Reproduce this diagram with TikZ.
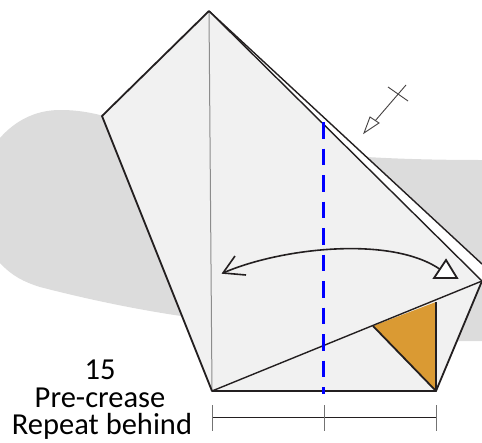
\documentclass[tikz,border=0pt]{standalone}
\usepackage{fontspec}
\setmainfont{Carlito}
\definecolor{blobgray}{HTML}{DCDCDC}
\definecolor{papergray}{HTML}{F1F1F1}
\definecolor{orangefold}{HTML}{DA9A33}
\definecolor{inkline}{HTML}{231F20}
\begin{document}
\begin{tikzpicture}[x=1pt,y=-1pt,
  edge/.style={draw=inkline,line width=1.8pt,line join=round},
  thinedge/.style={draw=inkline,line width=1.4pt},
  ruler/.style={draw=inkline,line width=.8pt},
  tick/.style={draw=black!55,line width=.9pt},
  label/.style={font=\fontsize{30.5}{34}\selectfont,align=center,text=black,inner sep=0pt,anchor=base}]
\useasboundingbox (0,0) rectangle (482,442);
\coordinate (T) at (209,11);
\coordinate (L) at (102,116);
\coordinate (BL) at (212,391);
\coordinate (BR) at (436,391);
\coordinate (R) at (482,281);
\coordinate (Ro) at (482,264);
\coordinate (O1) at (373,326);
\coordinate (O2) at (436,302);
% background blob
\fill[blobgray] (104,116) .. controls (85,111) and (72,110) .. (60,110)
  .. controls (34,110) and (14,122) .. (0,138) -- (0,263)
  .. controls (12,276) and (24,282) .. (40,287)
  .. controls (90,300) and (140,310) .. (181,316) -- (300,341) -- (482,341)
  -- (482,160) .. controls (440,160) and (400,159) .. (367,157) -- (300,150) -- cycle;
% paper
\fill[white] (T) -- (R) -- (Ro) -- cycle;
\fill[papergray] (T) -- (L) -- (BL) -- (BR) -- (R) -- cycle;
\fill[orangefold] (O1) -- (O2) -- (BR) -- cycle;
% crease
\draw[draw=black!45,line width=1pt] (T) -- (BL);
% outlines
\draw[edge] (T) -- (L) -- (BL) -- (BR) -- (R);
\draw[thinedge] (T) -- (R);
\draw[thinedge] (T) -- (Ro);
\draw[thinedge] (BL) -- (R);
\draw[edge] (O1) -- (BR) -- (O2);
% valley fold
\coordinate (V1) at (323.5,122);
\coordinate (V2) at (323.5,394);
\draw[blue,line width=2.4pt,dash pattern=on 16.5pt off 10pt] (V1) -- (V2);
% double arrow
\coordinate (A1) at (223,273);
\coordinate (A2) at (441,270);
\coordinate (A3) at (235,256);
\coordinate (A4) at (246,275);
\coordinate (H1) at (434,278);
\coordinate (H2) at (457,278);
\coordinate (H3) at (446,260);
\draw[draw=inkline,line width=1.6pt] (A1) .. controls (280,248) and (392,235) .. (A2);
\draw[draw=inkline,line width=1.6pt,line join=miter] (A3) -- (A1) -- (A4);
\draw[draw=inkline,line width=1.8pt,fill=white,line join=miter] (H1) -- (H2) -- (H3) -- cycle;
% pull arrow
\coordinate (C1) at (388,87);
\coordinate (C2) at (408,101);
\coordinate (C3) at (406,85);
\coordinate (C4) at (375,121);
\coordinate (P1) at (364,133);
\coordinate (P2) at (370,117);
\coordinate (P3) at (379,123);
\draw[draw=inkline!85,line width=.9pt] (C1) -- (C2);
\draw[draw=inkline!85,line width=.9pt] (C3) -- (C4);
\draw[draw=inkline!85,line width=.9pt,fill=white] (P1) -- (P2) -- (P3) -- cycle;
% ruler
\coordinate (D1) at (212,417);
\coordinate (D3) at (436,417);
\draw[ruler] (D1) -- (D3);
\draw[tick] (212,405) -- (212,431);
\draw[tick] (324,405) -- (324,431);
\draw[tick] (436,405) -- (436,431);
% text
\node[label] (num) at (100,379.4) {15};
\node[label] (pre) at (100,407) {Pre-crease};
\node[label] (rep) at (102,434.6) {Repeat behind};
\end{tikzpicture}
\end{document}
